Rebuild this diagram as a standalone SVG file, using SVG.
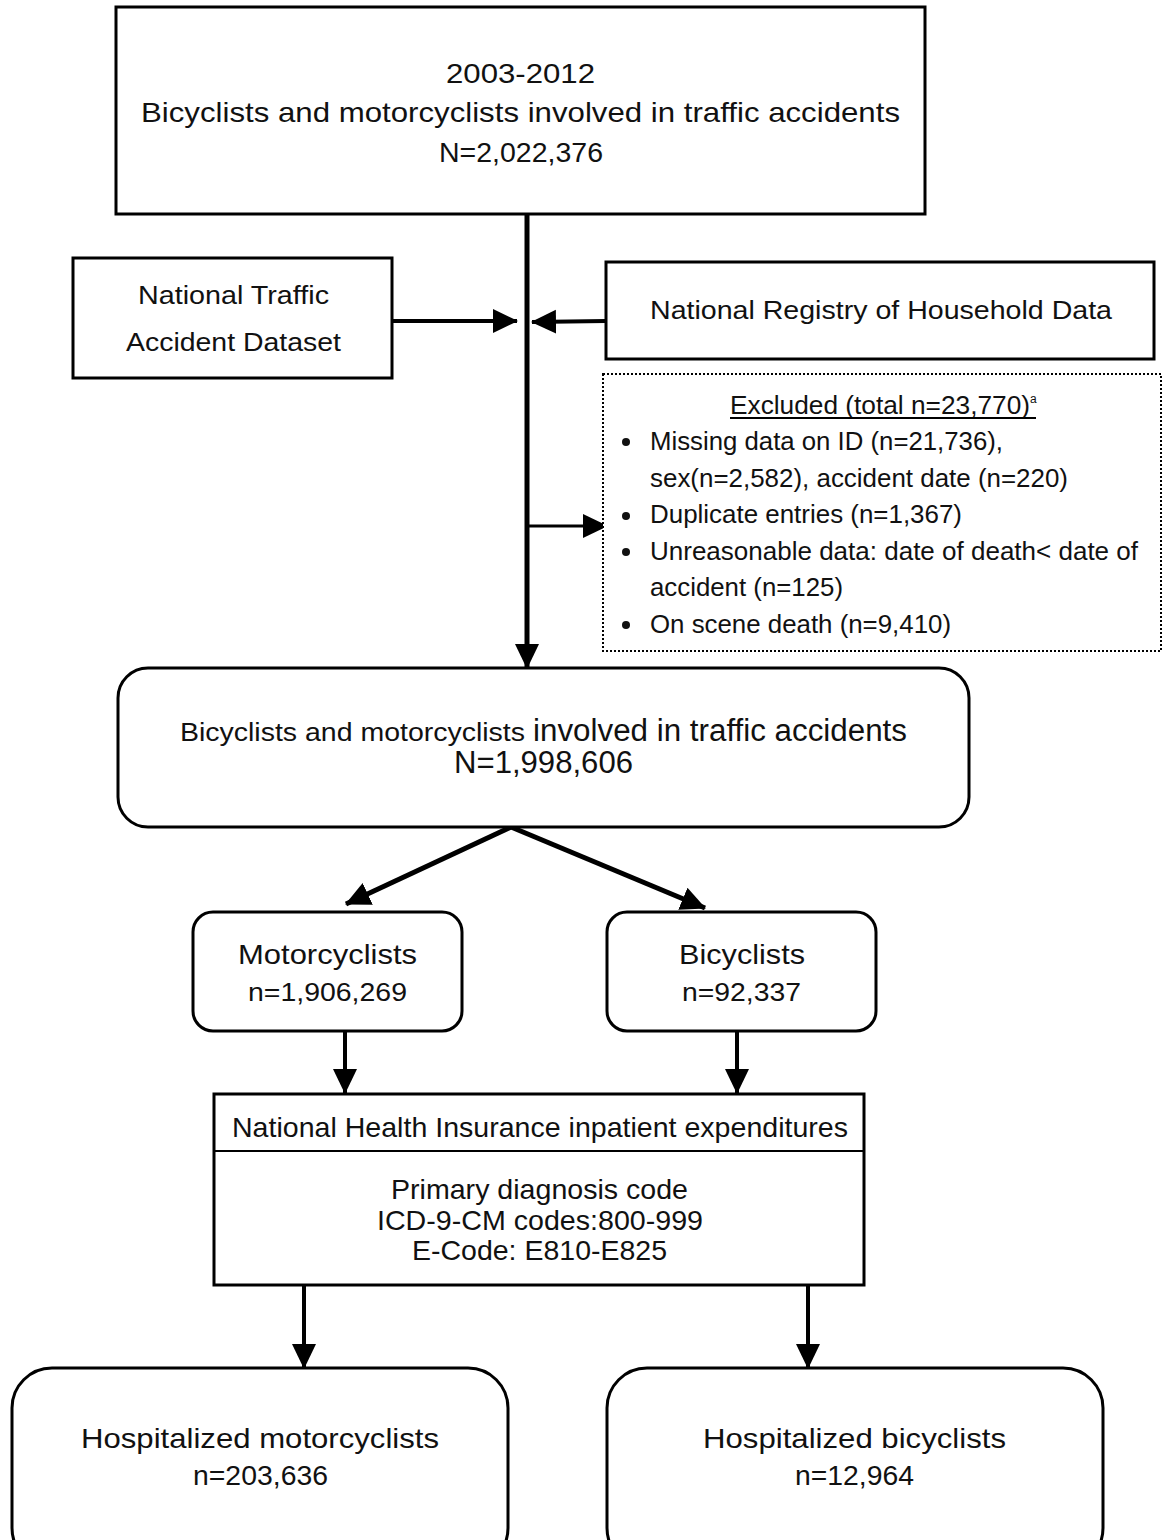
<svg xmlns="http://www.w3.org/2000/svg" width="1168" height="1540" viewBox="0 0 1168 1540">
<style>
.box{fill:#fff;stroke:#000;stroke-width:3}
.dot{fill:#fff;stroke:#000;stroke-width:2;stroke-dasharray:2 2}
.t{font-family:"Liberation Sans",Arial,sans-serif;fill:#111;font-size:28px}
.s{font-size:25px}
.c{stroke:#000;stroke-width:4;fill:none}
</style>
<defs>
<marker id="ah" markerUnits="userSpaceOnUse" markerWidth="26" markerHeight="26" viewBox="0 0 26 26" refX="24" refY="13" orient="auto">
<path d="M0,1 L25,13 L0,25 Z" fill="#000"/>
</marker>
</defs>
<rect width="1168" height="1540" fill="#fff"/>

<g id="connectors">
<line class="c" x1="527" y1="214" x2="527" y2="668" style="stroke-width:5" marker-end="url(#ah)"/>
<line class="c" x1="392" y1="321" x2="517" y2="321" marker-end="url(#ah)"/>
<line class="c" x1="606" y1="321" x2="532" y2="322" marker-end="url(#ah)"/>
<line class="c" x1="527" y1="526" x2="607" y2="526" style="stroke-width:3" marker-end="url(#ah)"/>
<line class="c" x1="511" y1="827" x2="346" y2="904" style="stroke-width:5" marker-end="url(#ah)"/>
<line class="c" x1="511" y1="827" x2="705" y2="908" style="stroke-width:5" marker-end="url(#ah)"/>
<line class="c" x1="345" y1="1031" x2="345" y2="1093" marker-end="url(#ah)"/>
<line class="c" x1="737" y1="1031" x2="737" y2="1093" marker-end="url(#ah)"/>
<line class="c" x1="304" y1="1285" x2="304" y2="1368" marker-end="url(#ah)"/>
<line class="c" x1="808" y1="1285" x2="808" y2="1368" marker-end="url(#ah)"/>
</g>

<g id="top">
<rect class="box" x="116" y="7" width="809" height="207"/>
<text class="t" x="446" y="83" textLength="149" lengthAdjust="spacingAndGlyphs">2003-2012</text>
<text class="t" x="141" y="122" textLength="759" lengthAdjust="spacingAndGlyphs">Bicyclists and motorcyclists involved in traffic accidents</text>
<text class="t" x="439" y="162" textLength="164" lengthAdjust="spacingAndGlyphs">N=2,022,376</text>
</g>

<g id="ntad">
<rect class="box" x="73" y="258" width="319" height="120"/>
<text class="t s" x="138" y="304" textLength="191" lengthAdjust="spacingAndGlyphs">National Traffic</text>
<text class="t s" x="126" y="351" textLength="215" lengthAdjust="spacingAndGlyphs">Accident Dataset</text>
</g>

<g id="nrhd">
<rect class="box" x="606" y="262" width="548" height="97"/>
<text class="t s" x="650" y="319" textLength="462" lengthAdjust="spacingAndGlyphs">National Registry of Household Data</text>
</g>

<g id="excluded">
<rect class="dot" x="603" y="374" width="558" height="277"/>
<text class="t s" x="730" y="414" textLength="300" lengthAdjust="spacingAndGlyphs">Excluded (total n=23,770)</text>
<text class="t" x="1030" y="403" style="font-size:12px">a</text>
<line x1="730" y1="418" x2="1036" y2="418" stroke="#000" stroke-width="2"/>
<g class="t s">
<circle cx="626" cy="442" r="4" fill="#111"/>
<text x="650" y="450" textLength="353" lengthAdjust="spacingAndGlyphs">Missing data on ID (n=21,736),</text>
<text x="650" y="487" textLength="418" lengthAdjust="spacingAndGlyphs">sex(n=2,582), accident date (n=220)</text>
<circle cx="626" cy="516" r="4" fill="#111"/>
<text x="650" y="523" textLength="312" lengthAdjust="spacingAndGlyphs">Duplicate entries (n=1,367)</text>
<circle cx="626" cy="552" r="4" fill="#111"/>
<text x="650" y="560" textLength="488" lengthAdjust="spacingAndGlyphs">Unreasonable data: date of death&lt; date of</text>
<text x="650" y="596" textLength="193" lengthAdjust="spacingAndGlyphs">accident (n=125)</text>
<circle cx="626" cy="625" r="4" fill="#111"/>
<text x="650" y="633" textLength="301" lengthAdjust="spacingAndGlyphs">On scene death (n=9,410)</text>
</g>
</g>

<g id="middle">
<rect class="box" x="118" y="668" width="851" height="159" rx="30"/>
<text class="t" x="180" y="741" style="font-size:26px" textLength="345" lengthAdjust="spacingAndGlyphs">Bicyclists and motorcyclists</text>
<text class="t" x="533" y="741" style="font-size:31px" textLength="374" lengthAdjust="spacingAndGlyphs">involved in traffic accidents</text>
<text class="t" x="454" y="773" style="font-size:31px" textLength="179" lengthAdjust="spacingAndGlyphs">N=1,998,606</text>
</g>

<g id="motorcyclists">
<rect class="box" x="193" y="912" width="269" height="119" rx="20"/>
<text class="t" x="238" y="964" textLength="179" lengthAdjust="spacingAndGlyphs">Motorcyclists</text>
<text class="t s" x="248" y="1001" textLength="159" lengthAdjust="spacingAndGlyphs">n=1,906,269</text>
</g>

<g id="bicyclists">
<rect class="box" x="607" y="912" width="269" height="119" rx="20"/>
<text class="t" x="679" y="964" textLength="126" lengthAdjust="spacingAndGlyphs">Bicyclists</text>
<text class="t s" x="682" y="1001" textLength="119" lengthAdjust="spacingAndGlyphs">n=92,337</text>
</g>

<g id="nhi">
<rect class="box" x="214" y="1094" width="650" height="191"/>
<line x1="214" y1="1151" x2="864" y2="1151" stroke="#000" stroke-width="2"/>
<text class="t" x="232" y="1137" textLength="616" lengthAdjust="spacingAndGlyphs">National Health Insurance inpatient expenditures</text>
<text class="t" x="391" y="1199" textLength="297" lengthAdjust="spacingAndGlyphs">Primary diagnosis code</text>
<text class="t" x="377" y="1230" textLength="326" lengthAdjust="spacingAndGlyphs">ICD-9-CM codes:800-999</text>
<text class="t" x="412" y="1260" textLength="255" lengthAdjust="spacingAndGlyphs">E-Code: E810-E825</text>
</g>

<g id="hosp-moto">
<rect class="box" x="12" y="1368" width="496" height="200" rx="40"/>
<text class="t" x="81" y="1448" textLength="358" lengthAdjust="spacingAndGlyphs">Hospitalized motorcyclists</text>
<text class="t" x="193" y="1485" textLength="135" lengthAdjust="spacingAndGlyphs">n=203,636</text>
</g>

<g id="hosp-bike">
<rect class="box" x="607" y="1368" width="496" height="200" rx="40"/>
<text class="t" x="703" y="1448" textLength="303" lengthAdjust="spacingAndGlyphs">Hospitalized bicyclists</text>
<text class="t" x="795" y="1485" textLength="119" lengthAdjust="spacingAndGlyphs">n=12,964</text>
</g>
</svg>
